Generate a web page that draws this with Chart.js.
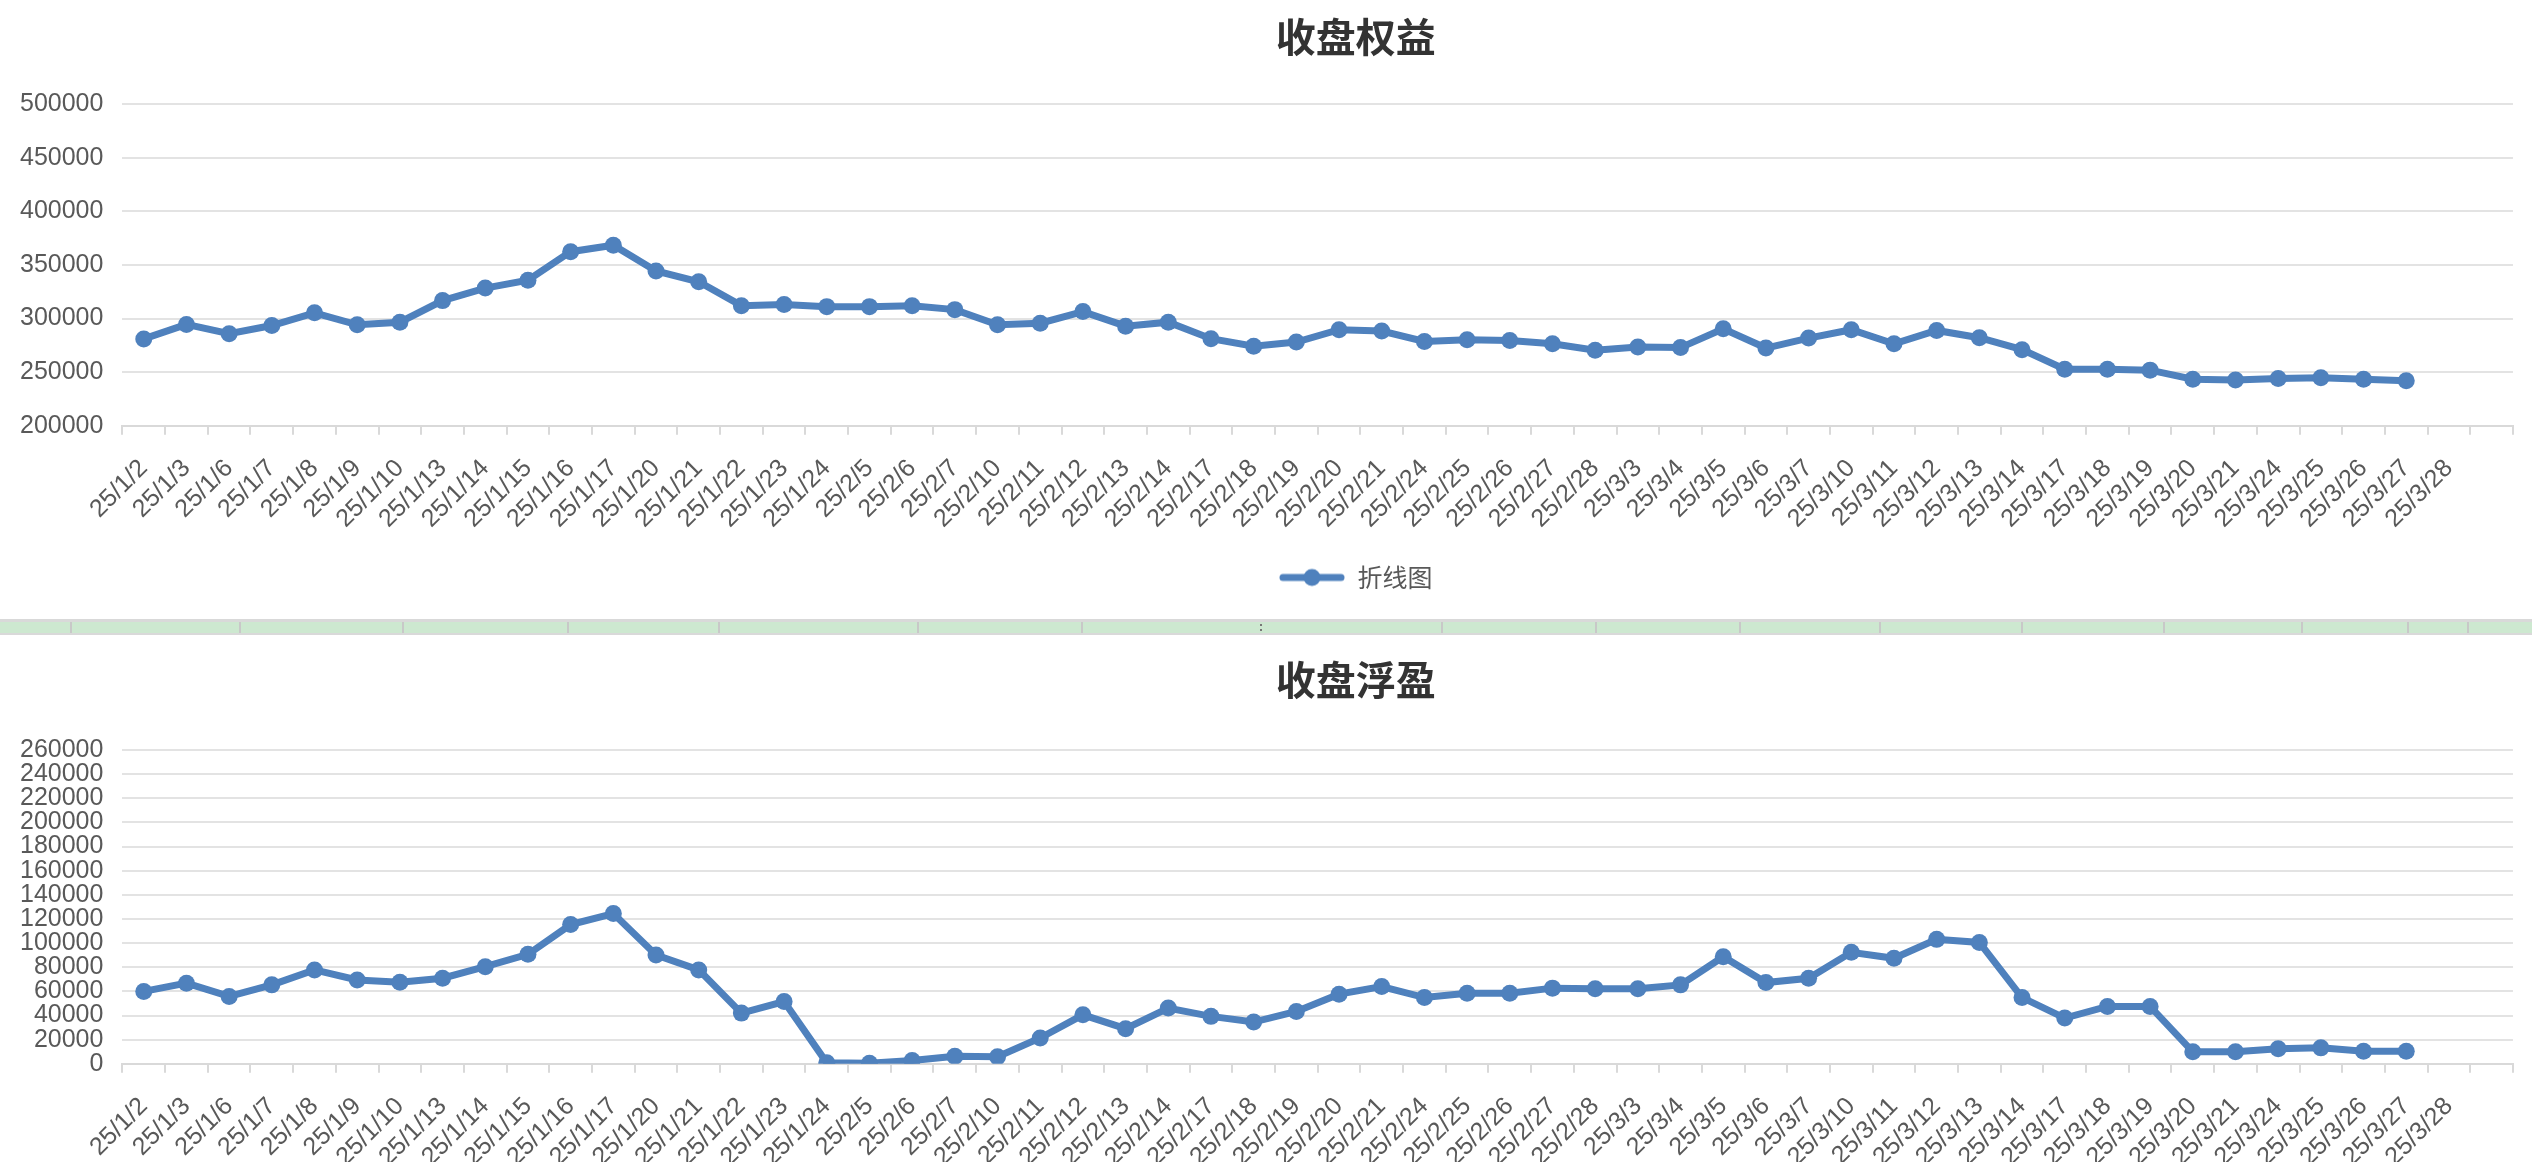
<!DOCTYPE html>
<html>
<head>
<meta charset="utf-8">
<script src="https://cdn.jsdelivr.net/npm/chart.js@4.4.1/dist/chart.umd.min.js"></script>
<style>
  html, body { margin: 0; padding: 0; background: #fff; overflow: hidden; width: 2532px; height: 1162px; }
  .box { position: absolute; left: 0; width: 2532px; }
  #topBox { top: 0; height: 619px; }
  #band { position: absolute; left: 0; top: 619px; width: 2532px; height: 11px; background: #cde8d0;
          border-top: 3px solid #d9d9d9; border-bottom: 2px solid #d9d9d9; }
  #band span { position: absolute; top: 0; width: 2px; height: 11px; background: #c8c8c8; }
  #band i { position: absolute; top: 2px; left: 1260px; width: 2px; height: 7px; border-left: 2px dotted #777; }
  #bottomBox { top: 635px; height: 622px; }
</style>
</head>
<body>
<div class="box" id="topBox"><canvas id="equityChart"></canvas></div>
<div id="band">
  <span style="left:70px"></span><span style="left:239px"></span><span style="left:402px"></span>
  <span style="left:567px"></span><span style="left:718px"></span><span style="left:917px"></span>
  <span style="left:1081px"></span><i></i><span style="left:1441px"></span><span style="left:1595px"></span>
  <span style="left:1739px"></span><span style="left:1879px"></span><span style="left:2021px"></span>
  <span style="left:2163px"></span><span style="left:2301px"></span><span style="left:2407px"></span>
  <span style="left:2467px"></span>
</div>
<div class="box" id="bottomBox"><canvas id="floatChart"></canvas></div>

<script>
const dates = ['25/1/2', '25/1/3', '25/1/6', '25/1/7', '25/1/8', '25/1/9', '25/1/10', '25/1/13', '25/1/14', '25/1/15',
    '25/1/16', '25/1/17', '25/1/20', '25/1/21', '25/1/22', '25/1/23', '25/1/24', '25/2/5', '25/2/6', '25/2/7',
    '25/2/10', '25/2/11', '25/2/12', '25/2/13', '25/2/14', '25/2/17', '25/2/18', '25/2/19', '25/2/20', '25/2/21',
    '25/2/24', '25/2/25', '25/2/26', '25/2/27', '25/2/28', '25/3/3', '25/3/4', '25/3/5', '25/3/6', '25/3/7',
    '25/3/10', '25/3/11', '25/3/12', '25/3/13', '25/3/14', '25/3/17', '25/3/18', '25/3/19', '25/3/20', '25/3/21',
    '25/3/24', '25/3/25', '25/3/26', '25/3/27', '25/3/28', ''];

// 收盘权益
const equity = [281000, 294500, 285800, 293500, 305300, 294200, 296600, 316700, 328400, 335800,
    362300, 368300, 344400, 334300, 312000, 313000, 311100, 311100, 312000, 308300,
    294200, 295700, 306500, 292900, 296600, 281200, 274100, 278100, 289600, 288300,
    278700, 280300, 279600, 276500, 270400, 273400, 272900, 290500, 272500, 281800,
    289600, 276500, 288900, 282100, 271000, 252800, 252800, 251900, 243500, 242600,
    244200, 244700, 243500, 241900];

// 收盘浮盈
const floating = [60000, 66800, 55800, 65400, 77800, 69500, 67600, 70900, 80500, 90700,
    115400, 124500, 90100, 77800, 42000, 51600, 800, 500, 2700, 6300,
    5800, 21400, 40600, 29100, 46200, 39300, 34600, 43400, 57700, 64000,
    54900, 58500, 58500, 62700, 62200, 62200, 65400, 88700, 67300, 70900,
    92400, 87400, 103100, 100600, 54900, 37900, 47500, 47500, 9900, 9900,
    12400, 13200, 10400, 10400];

const equityTicks = [200000, 500000, 50000];   // min, max, step
const floatTicks = [0, 260000, 20000];

const BLUE = '#4f81bd';
const NUM_FONT = 'Helvetica, Arial, "Liberation Sans", sans-serif';
const CJK_FONT = '"Noto Sans CJK SC", sans-serif';

// legend marker: line with a dot in the middle
const marker = document.createElement('canvas');
marker.width = 66;
marker.height = 20;
let mctx = marker.getContext('2d');
mctx.strokeStyle = BLUE;
mctx.lineWidth = 7;
mctx.lineCap = 'round';
mctx.beginPath();
mctx.moveTo(4, 10);
mctx.lineTo(62, 10);
mctx.stroke();
mctx.fillStyle = BLUE;
mctx.beginPath();
mctx.arc(33, 10, 8.5, 0, Math.PI * 2);
mctx.fill();

// the original page is a bit wider than the window, so title/legend sit right of centre
const centerShift = {
    id: 'centerShift',
    afterLayout: function (chart, args, opts) {
        [chart.titleBlock, chart.legend].forEach(function (b) {
            if (b) { b.left += opts.dx; b.right += opts.dx; }
        });
    }
};

function makeChart(id, title, values, ticks, titlePad) {
    return new Chart(document.getElementById(id), {
        type: 'line',
        data: {
            labels: dates,
            datasets: [{
                label: '折线图',
                data: values,
                borderColor: BLUE,
                backgroundColor: BLUE,
                borderWidth: 7,
                pointRadius: 8.5,
                pointBorderWidth: 0,
                pointBackgroundColor: BLUE,
                pointStyle: 'circle',
                tension: 0,
                fill: false
            }]
        },
        plugins: [centerShift],
        options: {
            responsive: true,
            maintainAspectRatio: false,
            animation: false,
            layout: { padding: { left: 1, right: 15, top: 0, bottom: 19 } },
            plugins: {
                centerShift: { dx: 38 },
                title: {
                    display: true,
                    text: title,
                    fullSize: false,
                    color: '#333',
                    font: { family: CJK_FONT, size: 40, weight: 'bold' },
                    padding: titlePad
                },
                legend: {
                    display: true,
                    position: 'bottom',
                    fullSize: false,
                    labels: {
                        usePointStyle: true,
                        pointStyleWidth: 66,
                        color: '#595959',
                        font: { family: CJK_FONT, size: 25 },
                        padding: 10,
                        generateLabels: function (chart) {
                            let items = Chart.defaults.plugins.legend.labels.generateLabels(chart);
                            items.forEach(function (it) { it.pointStyle = marker; });
                            return items;
                        }
                    }
                },
                tooltip: { enabled: false }
            },
            scales: {
                x: {
                    offset: true,
                    grid: {
                        offset: true,
                        drawOnChartArea: false,
                        drawTicks: true,
                        tickLength: 9,
                        color: '#d9d9d9',
                        lineWidth: 2
                    },
                    border: { display: true, color: '#d9d9d9', width: 2 },
                    ticks: {
                        autoSkip: false,
                        minRotation: 45,
                        maxRotation: 45,
                        padding: 19,
                        color: '#595959',
                        font: { family: NUM_FONT, size: 25 }
                    },
                    afterFit: function (axis) { axis.height += 2; }
                },
                y: {
                    min: ticks[0],
                    max: ticks[1],
                    grid: { color: '#e3e3e3', lineWidth: 2, drawTicks: false },
                    border: { display: false },
                    ticks: {
                        stepSize: ticks[2],
                        autoSkip: false,
                        padding: 19,
                        color: '#595959',
                        font: { family: NUM_FONT, size: 25 },
                        callback: function (v) { return String(v); }
                    }
                }
            }
        }
    });
}

let equityChart = makeChart('equityChart', '收盘权益', equity, equityTicks, { top: 13, bottom: 43 });
let floatChart = makeChart('floatChart', '收盘浮盈', floating, floatTicks, { top: 21, bottom: 46 });
</script>
</body>
</html>
